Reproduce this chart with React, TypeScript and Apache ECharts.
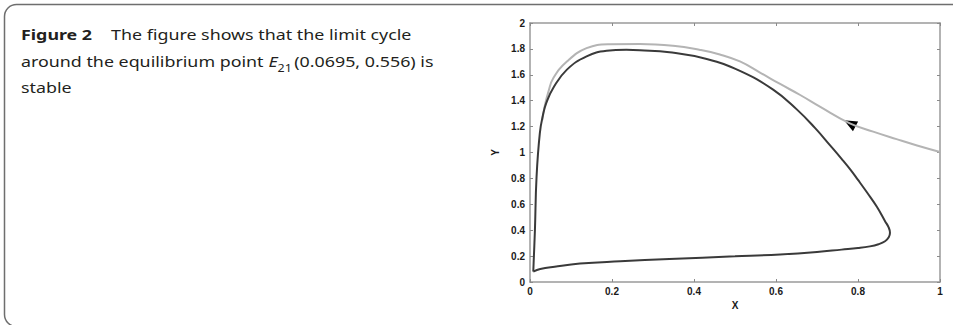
import React, { useEffect, useRef } from "react";
import * as echarts from "echarts";

// Limit cycle (dark) traced around the loop
const cycleX = [0.008, 0.025, 0.06, 0.122, 0.22, 0.34, 0.5, 0.61, 0.7, 0.76, 0.8, 0.829, 0.85, 0.866, 0.875, 0.878, 0.875, 0.866, 0.846, 0.823, 0.8, 0.781, 0.761, 0.732, 0.695, 0.65, 0.593, 0.512, 0.431, 0.34, 0.268, 0.235, 0.187, 0.138, 0.09, 0.057, 0.04, 0.032, 0.024, 0.016, 0.012, 0.009, 0.008];
const cycleY = [0.08, 0.1, 0.118, 0.142, 0.16, 0.178, 0.198, 0.213, 0.232, 0.25, 0.262, 0.275, 0.292, 0.315, 0.345, 0.38, 0.42, 0.47, 0.581, 0.687, 0.788, 0.869, 0.947, 1.055, 1.19, 1.335, 1.485, 1.63, 1.722, 1.774, 1.79, 1.793, 1.785, 1.742, 1.64, 1.5, 1.385, 1.295, 1.15, 0.813, 0.4, 0.16, 0.08];

// Trajectory (gray) starting at (1, 1)
const trajX = [1.0, 0.944, 0.894, 0.837, 0.78, 0.707, 0.659, 0.61, 0.561, 0.512, 0.463, 0.415, 0.349, 0.268, 0.195, 0.138, 0.09, 0.057, 0.045, 0.036, 0.03];
const trajY = [1.004, 1.054, 1.103, 1.161, 1.225, 1.354, 1.444, 1.529, 1.617, 1.703, 1.757, 1.792, 1.824, 1.838, 1.836, 1.806, 1.702, 1.575, 1.47, 1.36, 1.25];

// Arrow on the trajectory
const arrowPoint = [0.78, 1.225];

const xTicks = { min: 0, max: 1, interval: 0.2 };
const yTicks = { min: 0, max: 2, interval: 0.2 };

export default function App() {
  const ref = useRef<HTMLDivElement>(null);
  useEffect(() => {
    if (!ref.current) return;
    const chart = echarts.init(ref.current, undefined, { renderer: "svg" });
    const cycle = cycleX.map((x, i) => [x, cycleY[i]]);
    const traj = trajX.map((x, i) => [x, trajY[i]]);
    const axisLine = { show: true, onZero: false, lineStyle: { color: "#9a9a9a", width: 1.5 } };
    const axisTick = { show: true, inside: true, length: 3, lineStyle: { color: "#8a8a8a", width: 1 } };
    const labelStyle = { color: "#1a1a1a", fontSize: 10, fontWeight: "bold" as const, fontFamily: "Liberation Sans, Arial, sans-serif" };
    const font = "Noto Sans, sans-serif";
    chart.setOption({
      animation: false,
      backgroundColor: "#fff",
      grid: { left: 530, right: 13, top: 23, bottom: 43, containLabel: false },
      xAxis: [
        {
          type: "value", position: "bottom", ...xTicks,
          name: "X", nameLocation: "middle", nameGap: 15,
          nameTextStyle: { ...labelStyle },
          axisLine, axisTick, splitLine: { show: false },
          axisLabel: { ...labelStyle, margin: 4 },
        },
        {
          type: "value", position: "top", ...xTicks,
          axisLine, axisTick, splitLine: { show: false }, axisLabel: { show: false },
        },
      ],
      yAxis: [
        {
          type: "value", position: "left", ...yTicks,
          name: "Y", nameLocation: "middle", nameGap: 30, nameRotate: 90,
          nameTextStyle: { ...labelStyle },
          axisLine, axisTick, splitLine: { show: false },
          axisLabel: { ...labelStyle, margin: 5 },
        },
        {
          type: "value", position: "right", ...yTicks,
          axisLine, axisTick, splitLine: { show: false }, axisLabel: { show: false },
        },
      ],
      series: [
        {
          type: "line", data: traj, xAxisIndex: 0, yAxisIndex: 0,
          showSymbol: false, smooth: 0.45,
          lineStyle: { color: "#b4b4b4", width: 2 },
        },
        {
          type: "line", data: cycle, xAxisIndex: 0, yAxisIndex: 0,
          showSymbol: false, smooth: 0.45,
          lineStyle: { color: "#3a3a3a", width: 2 },
        },
        {
          type: "scatter", data: [arrowPoint], xAxisIndex: 0, yAxisIndex: 0,
          symbol: "triangle", symbolSize: [11, 13], symbolRotate: 62,
          itemStyle: { color: "#000", opacity: 1 },
        },
      ],
      graphic: [
        {
          type: "rect", silent: true,
          shape: { x: 4.5, y: 4.5, width: 1100, height: 322, r: 12 },
          style: { fill: "none", stroke: "#6e6e6e", lineWidth: 1.5 },
        },
        {
          type: "text", x: 21, y: 21, scaleX: 1.19, scaleY: 1,
          style: {
            text: "{b|Figure 2} The figure shows that the limit cycle\naround the equilibrium point {i|E}{s|21}(0.0695, 0.556) is\nstable",
            fontSize: 15, fontFamily: font, fill: "#231f20", lineHeight: 26.5,
            rich: {
              b: { fontSize: 15, fontWeight: "bold", fontFamily: font, fill: "#231f20", lineHeight: 26.5, padding: [0, 12, 0, 0] },
              i: { fontSize: 15, fontStyle: "italic", fontFamily: font, fill: "#231f20", lineHeight: 26.5 },
              s: { fontSize: 10.5, fontFamily: font, fill: "#231f20", lineHeight: 26.5, verticalAlign: "bottom", padding: [0, 2, 1, 0] },
            },
          },
        },
      ],
    });
    return () => chart.dispose();
  }, []);
  return <div ref={ref} style={{ position: "absolute", left: 0, top: 0, width: 953, height: 325 }} />;
}
